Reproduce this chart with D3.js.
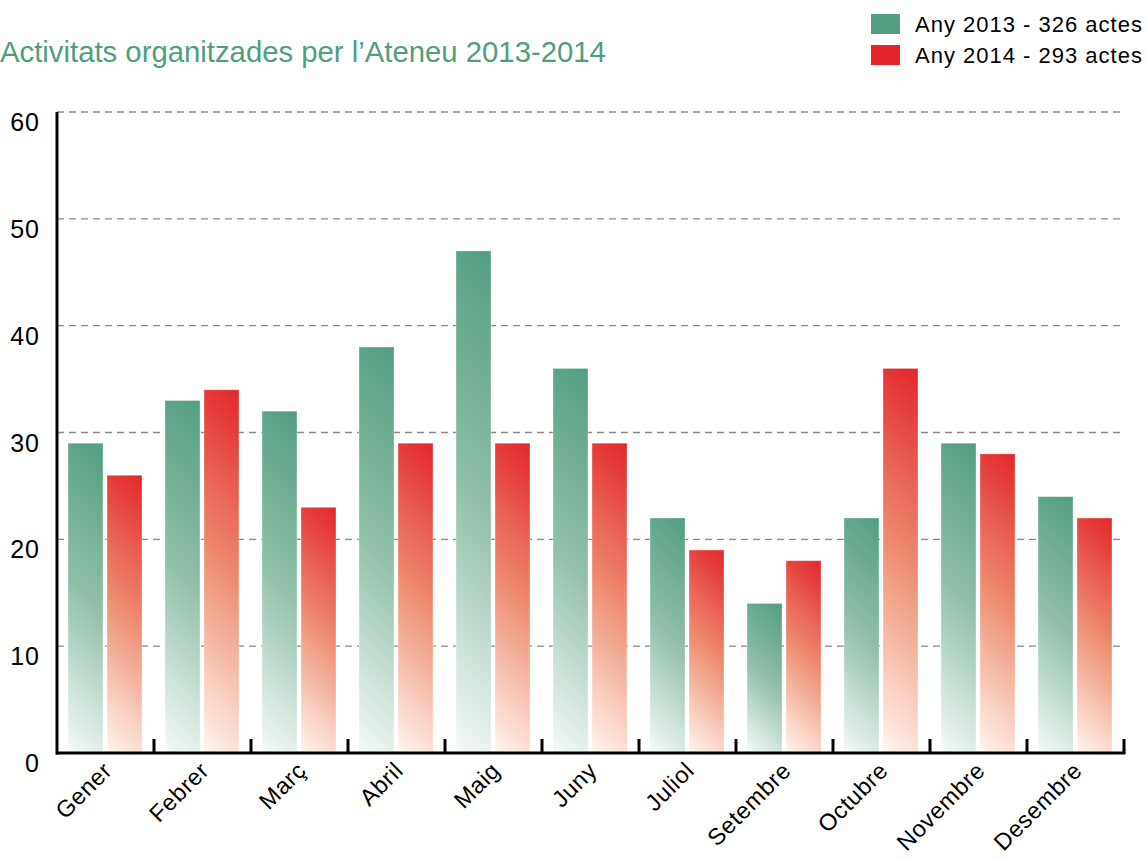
<!DOCTYPE html>
<html>
<head>
<meta charset="utf-8">
<script src="https://cdn.jsdelivr.net/npm/d3@7"></script>
<style>
  body { margin: 0; background: #fff; }
  text { font-family: "Helvetica Neue", Helvetica, "Liberation Sans", Arial, sans-serif; }
</style>
</head>
<body>
<svg width="1147" height="861"></svg>
<script>
var months = ["Gener", "Febrer", "Març", "Abril", "Maig", "Juny", "Juliol", "Setembre", "Octubre", "Novembre", "Desembre"];
var years = ["2013", "2014"];
var values2013 = [29, 33, 32, 38, 47, 36, 22, 14, 22, 29, 24];
var values2014 = [26, 34, 23, 29, 29, 29, 19, 18, 36, 28, 22];
var legendLabels = ["Any 2013 - 326 actes", "Any 2014 - 293 actes"];
var yTicks = [0, 10, 20, 30, 40, 50, 60];
var title = "Activitats organitzades per l\u2019Ateneu 2013-2014";

var svg = d3.select("svg");

var colors = { "2013": "#519e80", "2014": "#e3262a" };
var stops = {
  "2013": ["#519e80", "#92c0aa", "#f7faf8"],
  "2014": ["#e3262a", "#ee8f72", "#fff6f1"]
};

var scaleX = d3.scaleBand()
    .domain(months)
    .range([57, 1124]);

var scaleInner = d3.scaleBand()
    .domain(years)
    .range([11, 85])
    .paddingInner(4 / 39);

var scaleY = d3.scaleLinear()
    .domain([0, 60])
    .range([753, 112]);

// gridlines
svg.append("g")
    .selectAll("line")
    .data(yTicks.filter(function(d) { return d > 0; }))
    .enter().append("line")
    .attr("x1", 57)
    .attr("x2", 1122)
    .attr("y1", function(d) { return scaleY(d); })
    .attr("y2", function(d) { return scaleY(d); })
    .attr("stroke", "#8a8a8a")
    .attr("stroke-width", 1.3)
    .attr("stroke-dasharray", "7,5");

// bars
var bars = [];
months.forEach(function(m, i) {
  bars.push({ month: m, year: "2013", v: values2013[i], id: "g2013_" + i });
  bars.push({ month: m, year: "2014", v: values2014[i], id: "g2014_" + i });
});

function barX(d) { return scaleX(d.month) + scaleInner(d.year); }
function barH(d) { return scaleY(0) - scaleY(d.v); }

// one gradient per bar at 45 degrees: top-right corner full colour, bottom-left pale
var defs = svg.append("defs");
var grads = defs.selectAll("linearGradient")
    .data(bars)
    .enter().append("linearGradient")
    .attr("id", function(d) { return d.id; })
    .attr("gradientUnits", "userSpaceOnUse")
    .attr("x1", function(d) { return barX(d) + scaleInner.bandwidth(); })
    .attr("y1", function(d) { return scaleY(d.v); })
    .attr("x2", function(d) { return barX(d) + scaleInner.bandwidth() - (scaleInner.bandwidth() + barH(d)) / 2; })
    .attr("y2", function(d) { return scaleY(d.v) + (scaleInner.bandwidth() + barH(d)) / 2; });

grads.selectAll("stop")
    .data(function(d) { return stops[d.year]; })
    .enter().append("stop")
    .attr("offset", function(d, i) { return (i * 50) + "%"; })
    .attr("stop-color", function(d) { return d; });

svg.append("g").selectAll("rect")
    .data(bars)
    .enter().append("rect")
    .attr("x", barX)
    .attr("width", scaleInner.bandwidth())
    .attr("y", function(d) { return scaleY(d.v); })
    .attr("height", barH)
    .attr("fill", function(d) { return "url(#" + d.id + ")"; })
    .attr("stroke", "rgba(255,255,255,0.35)")
    .attr("stroke-width", 1);

// y axis
svg.append("line")
    .attr("x1", 57).attr("x2", 57)
    .attr("y1", scaleY(60)).attr("y2", scaleY(0) + 1.5)
    .attr("stroke", "#000").attr("stroke-width", 3);

svg.append("g").selectAll("text")
    .data(yTicks)
    .enter().append("text")
    .attr("x", 40)
    .attr("y", function(d) { return scaleY(d) + 19; })
    .attr("text-anchor", "end")
    .attr("font-size", 25)
    .attr("letter-spacing", 1)
    .attr("fill", "#000")
    .text(function(d) { return d; });

// x axis
svg.append("line")
    .attr("x1", 56).attr("x2", scaleX.range()[1] + 1.5)
    .attr("y1", scaleY(0)).attr("y2", scaleY(0))
    .attr("stroke", "#000").attr("stroke-width", 3);

svg.append("g").selectAll("line")
    .data(months.slice(1).concat(["end"]))
    .enter().append("line")
    .attr("x1", function(d) { return d == "end" ? scaleX.range()[1] : scaleX(d); })
    .attr("x2", function(d) { return d == "end" ? scaleX.range()[1] : scaleX(d); })
    .attr("y1", scaleY(0))
    .attr("y2", scaleY(0) - 14)
    .attr("stroke", "#000").attr("stroke-width", 3);

svg.append("g").selectAll("text")
    .data(months)
    .enter().append("text")
    .attr("transform", function(d) {
      return "translate(" + (scaleX(d) + scaleX.bandwidth() / 2 + 8) + "," + 772 + ") rotate(-45)";
    })
    .attr("text-anchor", "end")
    .attr("font-size", 23.5)
    .attr("letter-spacing", 0.6)
    .attr("fill", "#000")
    .text(function(d) { return d; });

// title
svg.append("text")
    .attr("x", 0)
    .attr("y", 62)
    .attr("font-size", 29.3)
    .attr("fill", "#4f9e80")
    .text(title);

// legend
var legend = svg.append("g").selectAll("g")
    .data(years)
    .enter().append("g")
    .attr("transform", function(d, i) { return "translate(871," + (14 + i * 31) + ")"; });

legend.append("rect")
    .attr("width", 29).attr("height", 20)
    .attr("fill", function(d) { return colors[d]; });

legend.append("text")
    .attr("x", 44)
    .attr("y", 18)
    .attr("font-size", 22)
    .attr("letter-spacing", 1)
    .attr("fill", "#000")
    .text(function(d, i) { return legendLabels[i]; });
</script>
</body>
</html>
